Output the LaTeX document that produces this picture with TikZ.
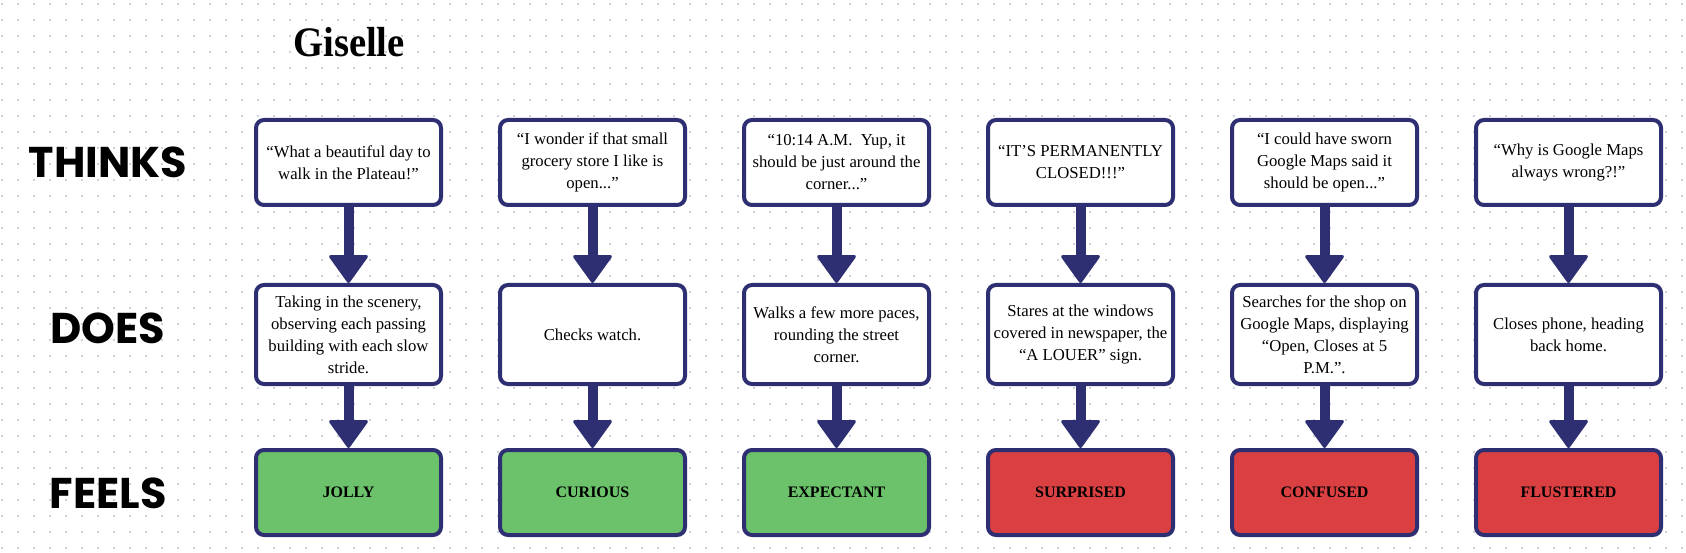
\documentclass[tikz,border=0pt]{standalone}
\usepackage{fontspec}
\setmainfont{Liberation Serif}
\newfontfamily\labelfont{Poppins}
\newfontfamily\titlefont[FakeStretch=0.92]{Liberation Serif}
\usetikzlibrary{arrows.meta}
\definecolor{navy}{HTML}{2E2E72}
\definecolor{gfill}{HTML}{6BC26B}
\definecolor{rfill}{HTML}{DA3F42}
\definecolor{dotc}{HTML}{D0D0DA}
\tikzset{
  box/.style={draw=navy, line width=4pt, rounded corners=8pt, fill=white,
    minimum width=185pt, inner sep=0pt, align=center,
    font=\fontsize{16.7}{22}\selectfont},
  thinkbox/.style={box, minimum height=85pt},
  doesbox/.style={box, minimum height=99pt},
  feelbox/.style={box, minimum height=85pt, font=\fontsize{16}{20}\selectfont\bfseries},
  good/.style={feelbox, fill=gfill},
  bad/.style={feelbox, fill=rfill},
  rowlabel/.style={font=\labelfont\bfseries\fontsize{43}{50}\selectfont, inner sep=0pt},
  flow/.style={draw=navy, line width=10pt,
    -{Triangle[length=29pt, width=41pt, round, line width=3pt]}},
}
\begin{document}
\begin{tikzpicture}[x=1pt,y=-1pt]
\fill[white] (0,0) rectangle (1686,553);
\useasboundingbox (0,0) rectangle (1686,553);
\foreach \y in {4,20,...,548}
  \draw[dotc, line width=2pt, dash pattern=on 2pt off 14pt] (1,\y) -- (1686,\y);

\node[font=\titlefont\bfseries\fontsize{42}{48}\selectfont, anchor=base, inner sep=0pt] (title) at (349,57) {Giselle};

\node[rowlabel] (lthinks) at (108,162.5) {THINKS};
\node[rowlabel] (ldoes) at (108,328) {DOES};
\node[rowlabel] (lfeels) at (108,493) {FEELS};

% column 1
\node[thinkbox] (t1) at (348.5,162.5) {“What a beautiful day to\\walk in the Plateau!”};
\node[doesbox] (d1) at (348.5,334.5) {Taking in the scenery,\\observing each passing\\building with each slow\\stride.};
\node[good] (f1) at (348.5,492.5) {JOLLY};
% column 2
\node[thinkbox] (t2) at (592.5,162.5) {“I wonder if that small\\grocery store I like is\\open...”};
\node[doesbox] (d2) at (592.5,334.5) {Checks watch.};
\node[good] (f2) at (592.5,492.5) {CURIOUS};
% column 3
\node[thinkbox] (t3) at (836.5,162.5) {“10:14 A.M.\ \ Yup, it\\should be just around the\\corner...”};
\node[doesbox] (d3) at (836.5,334.5) {Walks a few more paces,\\rounding the street\\corner.};
\node[good] (f3) at (836.5,492.5) {EXPECTANT};
% column 4
\node[thinkbox] (t4) at (1080.5,162.5) {“IT’S PERMANENTLY\\CLOSED!!!”};
\node[doesbox] (d4) at (1080.5,334.5) {Stares at the windows\\covered in newspaper, the\\“A LOUER” sign.};
\node[bad] (f4) at (1080.5,492.5) {SURPRISED};
% column 5
\node[thinkbox] (t5) at (1324.5,162.5) {“I could have sworn\\Google Maps said it\\should be open...”};
\node[doesbox] (d5) at (1324.5,334.5) {Searches for the shop on\\Google Maps, displaying\\“Open, Closes at 5\\P.M.”.};
\node[bad] (f5) at (1324.5,492.5) {CONFUSED};
% column 6
\node[thinkbox] (t6) at (1568.5,162.5) {“Why is Google Maps\\always wrong?!”};
\node[doesbox] (d6) at (1568.5,334.5) {Closes phone, heading\\back home.};
\node[bad] (f6) at (1568.5,492.5) {FLUSTERED};

\foreach \i in {1,...,6} {
  \draw[flow] (t\i.south) -- (d\i.north);
  \draw[flow] (d\i.south) -- (f\i.north);
}
\end{tikzpicture}
\end{document}
